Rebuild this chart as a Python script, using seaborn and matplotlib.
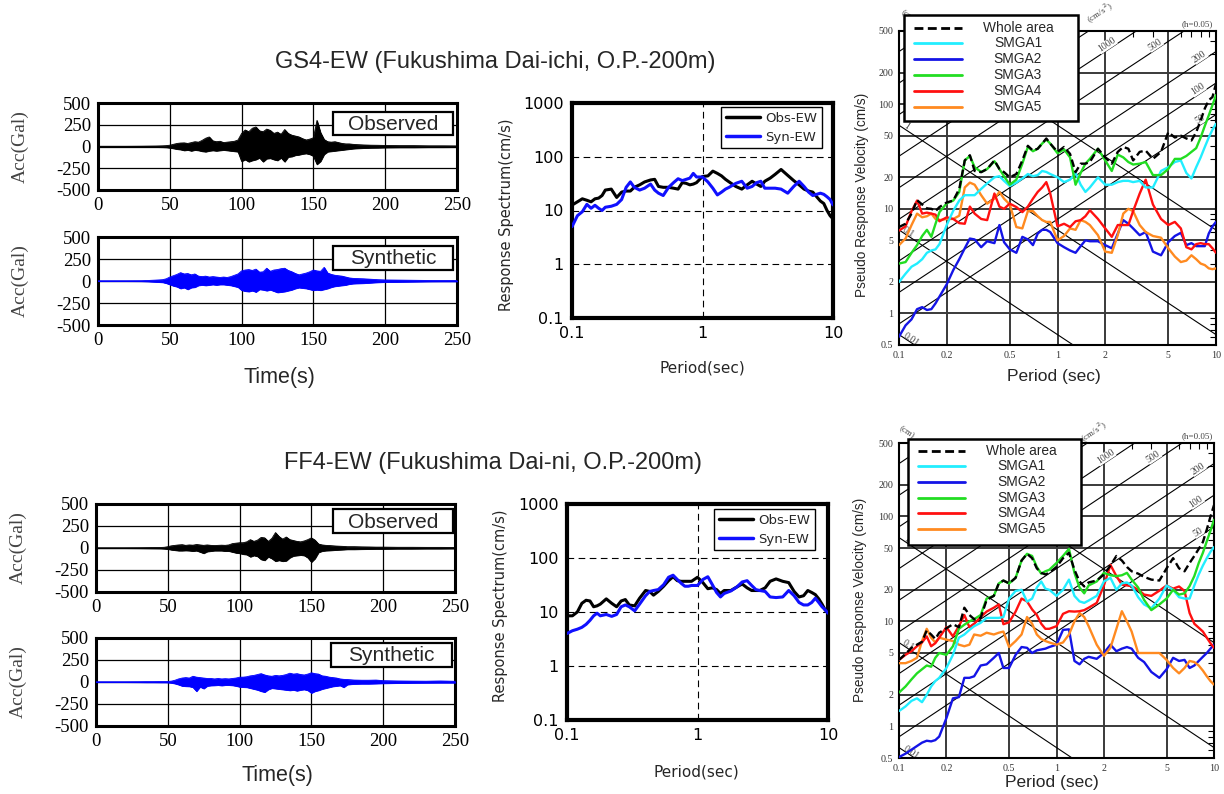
import numpy as np
import pandas as pd
import matplotlib
matplotlib.use("Agg")
import matplotlib.pyplot as plt
import seaborn as sns
from matplotlib.patches import Rectangle
from matplotlib.lines import Line2D
from matplotlib.ticker import FixedLocator, FixedFormatter, NullLocator

sns.set_theme(style="white")
plt.rcParams['font.family'] = ['Liberation Sans', 'DejaVu Sans']
plt.rcParams['axes.unicode_minus'] = False
SERIF = ['Liberation Serif', 'DejaVu Serif']

# ---------------- DATA ----------------
TITLE_TOP = "GS4-EW (Fukushima Dai-ichi, O.P.-200m)"
TITLE_BOT = "FF4-EW (Fukushima Dai-ni, O.P.-200m)"

# waveform time samples (s)
TIME_S = [0, 20, 30, 35, 40, 45, 47.5, 50, 52.5, 55, 57.5, 60, 62.5, 65, 67.5, 70,
          72.5, 75, 77.5, 80, 82.5, 85, 87.5, 90, 92.5, 95, 97.5, 100, 102.5, 105,
          107.5, 110, 112.5, 115, 117.5, 120, 122.5, 125, 127.5, 130, 132.5, 135,
          137.5, 140, 142.5, 145, 147.5, 150, 152.5, 155, 157.5, 160, 162.5, 165,
          167.5, 170, 172.5, 175, 177.5, 180, 185, 190, 195, 200, 210, 220, 230, 240, 250]

# GS4 observed: peak / trough (Gal)
GS4_OBS_UP = [3, 3, 4, 5, 6, 8, 10, 15, 25, 35, 40, 42, 35, 45, 55, 50,
              70, 95, 110, 65, 55, 60, 45, 50, 55, 60, 75, 150, 190, 170,
              210, 225, 180, 170, 200, 185, 150, 165, 140, 195, 150, 130,
              120, 110, 90, 75, 85, 100, 300, 160, 80, 55, 50, 55,
              45, 35, 30, 30, 25, 22, 18, 15, 14, 12, 10, 10, 8, 8, 7]
GS4_OBS_LO = [-3, -3, -4, -5, -6, -8, -10, -15, -22, -30, -35, -45, -40, -50, -40, -45,
              -55, -60, -50, -45, -50, -45, -40, -45, -50, -55, -60, -170, -150, -175,
              -160, -150, -130, -175, -140, -135, -150, -160, -130, -175, -120, -115,
              -100, -95, -85, -80, -90, -110, -205, -170, -90, -60, -55, -50,
              -45, -40, -35, -30, -25, -22, -18, -15, -14, -12, -10, -10, -8, -8, -7]
# GS4 synthetic
GS4_SYN_UP = [2, 2, 3, 6, 10, 15, 25, 45, 60, 75, 95, 80, 85, 70, 80, 55,
              50, 55, 45, 50, 45, 40, 45, 40, 50, 65, 80, 115, 125, 130,
              120, 135, 100, 105, 145, 110, 125, 130, 140, 145, 120, 105,
              85, 70, 80, 90, 105, 125, 115, 110, 155, 90, 75, 65,
              60, 55, 45, 35, 30, 28, 25, 20, 15, 12, 10, 8, 6, 5, 5]
GS4_SYN_LO = [-2, -2, -3, -6, -10, -15, -25, -40, -55, -65, -85, -75, -95, -75, -70, -50,
              -45, -50, -45, -40, -45, -40, -40, -45, -50, -60, -70, -105, -115, -120,
              -110, -125, -95, -100, -110, -100, -115, -130, -125, -120, -110, -100,
              -85, -75, -80, -85, -95, -105, -100, -105, -95, -85, -70, -60,
              -55, -50, -45, -35, -30, -28, -25, -20, -15, -12, -10, -8, -6, -5, -5]
# FF4 observed
FF4_OBS_UP = [2, 2, 3, 4, 5, 6, 8, 15, 25, 30, 35, 38, 30, 35, 32, 40,
              35, 30, 35, 30, 28, 30, 32, 30, 35, 50, 55, 60, 60, 70,
              95, 75, 90, 120, 115, 75, 110, 175, 130, 100, 125, 95,
              85, 75, 70, 80, 95, 115, 90, 45, 35, 30, 28, 25,
              22, 20, 18, 15, 15, 15, 13, 12, 10, 10, 8, 8, 7, 7, 6]
FF4_OBS_LO = [-2, -2, -3, -4, -5, -6, -8, -12, -20, -25, -30, -30, -28, -30, -35, -30,
              -45, -60, -40, -35, -30, -30, -30, -35, -35, -45, -55, -60, -70, -75,
              -100, -85, -95, -130, -140, -100, -120, -150, -140, -150, -145, -110,
              -90, -85, -80, -85, -110, -160, -120, -50, -35, -30, -28, -25,
              -22, -20, -18, -15, -15, -15, -13, -12, -10, -10, -8, -8, -7, -7, -6]
# FF4 synthetic
FF4_SYN_UP = [2, 2, 3, 4, 4, 5, 5, 6, 10, 20, 35, 45, 50, 45, 65, 55,
              50, 45, 40, 40, 35, 40, 35, 38, 35, 40, 45, 55, 55, 60,
              70, 75, 85, 95, 80, 70, 65, 75, 70, 75, 85, 100,
              90, 95, 85, 80, 90, 105, 95, 90, 70, 65, 55, 50,
              45, 35, 30, 28, 25, 22, 20, 20, 22, 15, 12, 10, 9, 12, 8]
FF4_SYN_LO = [-2, -2, -3, -4, -4, -5, -5, -6, -10, -18, -30, -45, -48, -50, -60, -105,
              -55, -75, -45, -40, -38, -35, -40, -35, -35, -38, -45, -55, -58, -60,
              -70, -80, -90, -105, -115, -85, -70, -75, -80, -85, -90, -95,
              -90, -100, -90, -85, -95, -125, -105, -95, -80, -70, -60, -50,
              -45, -40, -60, -30, -25, -22, -20, -20, -18, -15, -12, -10, -9, -8, -8]

WAVE_XTICKS = [0, 50, 100, 150, 200, 250]
WAVE_YTICKS = [-500, -250, 0, 250, 500]

# periods (s) shared by spectra
PERIOD = [0.1, 0.11, 0.12, 0.13, 0.14, 0.15, 0.16, 0.17, 0.18, 0.2,
          0.22, 0.24, 0.26, 0.28, 0.3, 0.33, 0.36, 0.4, 0.43, 0.46,
          0.5, 0.55, 0.6, 0.65, 0.7, 0.75, 0.8, 0.85, 0.9, 1.0,
          1.1, 1.2, 1.3, 1.4, 1.5, 1.6, 1.8, 2.0, 2.2, 2.4,
          2.6, 2.8, 3.0, 3.3, 3.6, 4.0, 4.5, 5.0, 5.5, 6.0,
          6.5, 7.0, 7.5, 8.0, 8.5, 9.0, 9.5, 10]

# response spectra (cm/s)
GS4_SPEC_OBS = [12.6, 14.5, 16.5, 15.5, 14.5, 16.5, 17, 19, 24, 25,
                17.5, 22, 23, 23, 27, 30, 34, 37, 38, 28,
                27, 27, 26, 25, 33, 32, 30, 31, 33, 43,
                44, 54, 49, 44, 38, 34, 28, 25, 30, 35,
                31, 28, 35, 40, 47, 58, 45, 36, 30, 25,
                23, 22, 18, 15, 13.5, 10, 8, 7]
GS4_SPEC_SYN = [5, 8, 9.5, 13, 11, 12.5, 11, 10, 11.5, 12,
                13, 16, 27, 34, 27, 24, 26, 31, 24, 21,
                19, 27, 33, 39, 36, 38, 40, 49, 42, 42,
                34, 26, 19.5, 22, 25, 27, 32, 35, 26, 28,
                33, 35, 26, 26, 26, 25, 21, 28, 35, 28,
                22, 19, 20, 21, 20, 18, 16, 12.7]
FF4_SPEC_OBS = [8.5, 8.5, 10, 14.5, 16.5, 16, 12.5, 13, 14, 17.5,
                14.5, 12.5, 16, 17, 13.5, 13, 18, 25, 24, 20.5,
                24, 30, 38, 45, 38, 37, 37, 37, 37, 44,
                35, 27, 28, 26, 22, 25, 25, 29, 33, 28,
                25, 25, 25, 28, 37, 41, 37, 35, 24, 19,
                20, 25, 23, 21, 17.5, 14, 11, 9.5]
FF4_SPEC_SYN = [4.0, 4.5, 4.8, 5.2, 5.9, 7.0, 8.5, 9.5, 8.5, 9.0,
                8.3, 9.0, 12.5, 13.5, 12.5, 10.5, 14, 20, 24, 25,
                26, 32, 44, 48, 40, 34, 30, 30, 31, 31,
                40, 45, 32, 23, 19, 22, 24.5, 29, 36, 38,
                31, 26, 25, 24, 19, 18.5, 19, 25, 20, 15,
                13.5, 13.5, 15, 18, 15, 12.5, 11, 9.5]
SPEC_XTICKS = [0.1, 1, 10]
SPEC_XLABELS = ['0.1', '1', '10']
SPEC_YTICKS = [0.1, 1, 10, 100, 1000]
SPEC_YLABELS = ['0.1', '1', '10', '100', '1000']

# pseudo velocity response (cm/s), h=0.05
GS4_WHOLE = [6.7, 7.2, 9.0, 12.1, 11, 10.1, 10, 9.5, 10.4, 11.5,
             12, 15.5, 29, 32.5, 23, 22.4, 24, 29, 24, 22.4,
             20, 21.5, 29, 40, 36, 37.5, 42, 47, 42, 35,
             39, 33.5, 22.4, 27, 27, 28, 37.5, 31, 27, 35,
             39, 37.5, 29, 35, 36, 30, 35, 54, 48, 50,
             47, 45, 54, 70, 91, 109, 117, 157]
GS4_SMGA1 = [2.0, 2.4, 2.8, 3.0, 3.3, 3.8, 4.0, 4.1, 4.6, 7.0,
             9.6, 12, 13.5, 13.5, 13.5, 15.5, 17.5, 20, 20.5, 18.5,
             16.5, 17.8, 19.5, 21.5, 20.5, 21, 23, 22.5, 21.5, 20,
             18, 19, 22, 17, 14.5, 16, 20, 17, 17, 18,
             18.5, 18.5, 18, 18.5, 16, 16, 23, 25, 28, 29,
             22, 19.5, 25, 31, 39, 48, 57, 65]
GS4_SMGA2 = [0.6, 0.77, 0.88, 1.1, 1.15, 1.08, 1.1, 1.25, 1.45, 1.9,
             2.6, 3.3, 4.2, 5.2, 5.1, 4.3, 4.9, 4.7, 7.0, 4.8,
             4.1, 3.8, 5.4, 5.1, 4.5, 5.8, 6.3, 6.3, 6.0, 4.7,
             4.3, 4.0, 3.8, 4.4, 5.0, 4.9, 4.9, 4.5, 4.2, 5.8,
             7.8, 7.2, 6.5, 5.6, 6.0, 3.9, 3.6, 4.8, 5.5, 5.9,
             4.5, 4.7, 4.4, 4.4, 4.4, 5.8, 6.8, 7.5]
GS4_SMGA3 = [3.0, 3.1, 3.8, 4.5, 5.5, 6.3, 5.4, 7.2, 9.3, 11.3,
             12, 14.5, 29, 32, 25, 22.5, 24, 28.5, 24, 20.5,
             17, 19, 27, 39, 35.5, 37.5, 42, 46, 42, 34,
             37, 31, 17, 22, 27, 30, 37.5, 29, 23, 33,
             31, 28, 26.5, 27, 28, 21, 21, 24, 30, 30,
             32, 35, 38, 48, 62, 78, 98, 122]
GS4_SMGA4 = [6.2, 6.8, 9.5, 12, 9.0, 9.2, 9.0, 8.8, 7.6, 8.3,
             8.0, 7.3, 7.2, 10.5, 9.0, 8.0, 7.8, 14, 10.5, 10,
             11.2, 10.4, 9.3, 10.5, 12.5, 14.5, 16, 18, 14, 6.8,
             7.2, 6.7, 7.6, 7.8, 8.5, 9.7, 8.0, 6.5, 5.4, 7.0,
             7.0, 7.0, 9.5, 14, 19, 11, 8.0, 7.0, 7.5, 6.5,
             4.3, 4.1, 4.6, 4.7, 4.6, 4.6, 4.2, 3.8]
GS4_SMGA5 = [4.5, 5.2, 7.0, 9.0, 8.3, 8.5, 9.0, 8.0, 7.8, 8.0,
             8.0, 8.6, 16, 17.8, 17, 13.5, 11.2, 12.5, 14.5, 12.5,
             11, 6.7, 6.5, 9.5, 9.5, 8.5, 7.8, 7.5, 7.5, 5.0,
             5.5, 6.5, 6.3, 7.8, 7.5, 7.0, 5.6, 3.9, 3.8, 5.6,
             9.0, 10, 9.5, 7.0, 6.0, 5.5, 5.3, 4.2, 3.5, 3.1,
             3.2, 3.6, 3.3, 3.0, 2.9, 2.7, 2.65, 2.7]

FF4_WHOLE = [4.3, 4.9, 5.6, 6.0, 6.4, 8.2, 7.5, 6.8, 7.8, 8.6,
             9.4, 8.8, 13.5, 11.5, 10.5, 10.8, 16, 17.5, 23, 24.5,
             23, 26, 38, 44, 40, 32, 29, 28, 29, 33,
             40, 45, 31, 24, 21.5, 23.5, 24.5, 28, 34, 42,
             38, 33, 30, 28.5, 26.5, 25, 24.5, 32, 40, 32,
             30, 36, 42, 49, 57, 75, 100, 128]
FF4_SMGA1 = [1.4, 1.55, 1.75, 1.85, 1.7, 2.0, 2.4, 2.7, 2.9, 3.6,
             4.8, 7.0, 7.5, 8.3, 9.0, 9.7, 10.8, 10.8, 10.8, 11,
             16.5, 19.5, 20, 15.4, 16.5, 21, 24, 20.5, 20, 17.5,
             20, 25, 17.5, 15.5, 15, 15.8, 17.5, 24, 26, 20,
             23, 23.5, 22, 17, 14.5, 13.3, 16.5, 22, 20, 17,
             16.5, 16.5, 22, 28, 34, 40, 46, 51]
FF4_SMGA2 = [0.51, 0.55, 0.6, 0.65, 0.7, 0.73, 0.72, 0.74, 0.8, 1.2,
             1.85, 1.9, 2.9, 2.9, 3.0, 3.8, 3.9, 4.5, 5.0, 3.6,
             3.6, 4.8, 5.7, 5.6, 5.0, 5.3, 5.4, 5.5, 5.7, 6.0,
             8.3, 8.4, 4.2, 3.9, 4.4, 4.6, 4.4, 5.0, 6.0, 5.2,
             5.5, 5.7, 5.5, 4.5, 4.1, 3.3, 2.9, 3.5, 4.5, 4.2,
             4.3, 3.6, 3.8, 4.2, 4.6, 5.0, 5.5, 6.0]
FF4_SMGA3 = [2.1, 2.4, 2.8, 3.2, 3.5, 3.8, 3.7, 4.5, 5.0, 4.8,
             5.8, 8.5, 9.3, 10, 10.5, 11.5, 16.5, 17.5, 23, 24.5,
             23, 26, 38, 44, 42, 33, 28.5, 30, 31, 36,
             42, 49, 29, 21, 18.5, 22, 24, 29, 27.5, 27,
             27.5, 29, 25, 21, 16, 12.8, 14.5, 16.5, 20, 18,
             18.5, 21.7, 27, 36, 45, 58, 73, 93]
FF4_SMGA4 = [4.3, 4.8, 5.2, 5.8, 6.3, 7.2, 5.8, 6.2, 7.0, 8.8,
             7.2, 9.0, 11.5, 8.8, 9.5, 11, 12.4, 13.5, 14.5, 9.4,
             9.8, 12.4, 16.5, 15.5, 13, 11.5, 9.5, 8.5, 8.5, 9.0,
             11.8, 12.5, 12.4, 12.5, 12.8, 13.5, 15, 22, 34.5, 27,
             22.4, 22, 21.7, 20, 18, 17.5, 19.6, 22, 20.5, 21.5,
             19.5, 12, 9.5, 8.7, 8.0, 7.0, 6.2, 5.6]
FF4_SMGA5 = [4.0, 4.0, 4.2, 4.5, 6.5, 8.5, 7.0, 6.3, 7.0, 6.7,
             6.5, 6.0, 5.8, 6.0, 7.5, 7.3, 7.8, 7.5, 7.8, 8.0,
             5.7, 6.5, 7.5, 11, 9.5, 7.5, 6.8, 6.5, 6.3, 6.0,
             6.3, 7.5, 10, 12, 11, 9, 6.0, 4.7, 5.6, 8.5,
             12.5, 10, 8.0, 5.0, 5.0, 5.0, 5.0, 4.3, 3.6, 3.2,
             3.6, 4.2, 4.1, 3.8, 3.4, 3.0, 2.7, 2.5]

TRI_NAMES = ['Whole area', 'SMGA1', 'SMGA2', 'SMGA3', 'SMGA4', 'SMGA5']
TRI_COLORS = {'Whole area': 'black', 'SMGA1': '#22EEFF', 'SMGA2': '#1414E6',
              'SMGA3': '#22DD22', 'SMGA4': '#FF1010', 'SMGA5': '#FF8A20'}
TRI_XTICKS = [0.1, 0.2, 0.5, 1, 2, 5, 10]
TRI_XLABELS = ['0.1', '0.2', '0.5', '1', '2', '5', '10']
TRI_YTICKS = [0.5, 1, 2, 5, 10, 20, 50, 100, 200, 500]
TRI_YLABELS = ['0.5', '1', '2', '5', '10', '20', '50', '100', '200', '500']
TRI_XMINOR = [0.3, 0.4, 0.6, 0.7, 0.8, 0.9, 3, 4, 6, 7, 8, 9]
TRI_YMINOR = [0.6, 0.7, 0.8, 0.9, 3, 4, 6, 7, 8, 9, 30, 40, 60, 70, 80, 90, 300, 400]
ACC_LINES = [50, 100, 200, 500, 1000, 2000, 5000, 10000, 20000]  # cm/s^2
DISP_LINES = [0.01, 0.1, 1, 10]                                   # cm
ACC_LABELS = ['1000', '500', '200', '100', '50']
ACC_LABEL_VALUES = [1000, 500, 200, 100, 50]
ACC_LABEL_T = [2.05, 4.13, 7.9, 7.7, 7.9]
DISP_LABELS = ['1', '0.1', '0.01']
DISP_LABEL_VALUES = [1, 0.1, 0.01]
DISP_LABEL_T = [0.111, 0.1135, 0.12]

# ---------------- FIGURE ----------------
W, H = 1224, 794
fig = plt.figure(figsize=(W / 100, H / 100), dpi=100)


def px_axes(x0, y0, x1, y1):
    return fig.add_axes([x0 / W, 1 - y1 / H, (x1 - x0) / W, (y1 - y0) / H])


def ftext(x, y, s, **kw):
    fig.text(x / W, 1 - y / H, s, **kw)


def wave_panel(box, up, lo, color, tag, tagbox):
    ax = px_axes(*box)
    ax.fill_between(TIME_S, lo, up, color=color, linewidth=0.6, zorder=3)
    sns.lineplot(x=TIME_S, y=up, ax=ax, color=color, lw=0.6, estimator=None, zorder=3)
    sns.lineplot(x=TIME_S, y=lo, ax=ax, color=color, lw=0.6, estimator=None, zorder=3)
    ax.set_xlim(0, 250)
    ax.set_ylim(-500, 500)
    ax.set_xticks(WAVE_XTICKS)
    ax.set_yticks(WAVE_YTICKS)
    ax.set_xticklabels([str(v) for v in WAVE_XTICKS])
    ax.set_yticklabels([str(v) for v in WAVE_YTICKS])
    ax.grid(True, color='black', lw=0.9, zorder=1)
    ax.set_axisbelow(True)
    for s in ax.spines.values():
        s.set_linewidth(2.2)
        s.set_color('black')
    ax.tick_params(length=0, labelsize=13.5, pad=5, colors='black')
    for lab in ax.get_xticklabels() + ax.get_yticklabels():
        lab.set_fontfamily(SERIF)
    ax.set_ylabel('Acc(Gal)', fontfamily=SERIF, fontsize=14, color='#444444')
    ax.yaxis.set_label_coords(-0.193, 0.5)
    ax.set_xlabel('')
    x0, y0, x1, y1 = tagbox
    ax.add_patch(Rectangle((x0, y0), x1 - x0, y1 - y0, transform=ax.transAxes,
                           fc='white', ec='black', lw=1.6, zorder=6))
    ax.text((x0 + x1) / 2, (y0 + y1) / 2 - 0.01, tag, transform=ax.transAxes, ha='center',
            va='center', fontsize=15, zorder=7)
    return ax


def spec_panel(box, obs, syn, leg_anchor):
    ax = px_axes(*box)
    ax.set_xscale('log')
    ax.set_yscale('log')
    sns.lineplot(x=PERIOD, y=obs, ax=ax, color='black', lw=2.2, estimator=None, zorder=4)
    sns.lineplot(x=PERIOD, y=syn, ax=ax, color='#1010FF', lw=2.2, estimator=None, zorder=4)
    ax.set_xlim(0.1, 10)
    ax.set_ylim(0.1, 1000)
    for v in [1, 10, 100]:
        ax.axhline(v, color='black', lw=0.8, ls=(0, (6, 4)), zorder=1)
    ax.axvline(1, color='black', lw=0.8, ls=(0, (6, 4)), zorder=1)
    ax.xaxis.set_major_locator(FixedLocator(SPEC_XTICKS))
    ax.xaxis.set_major_formatter(FixedFormatter(SPEC_XLABELS))
    ax.yaxis.set_major_locator(FixedLocator(SPEC_YTICKS))
    ax.yaxis.set_major_formatter(FixedFormatter(SPEC_YLABELS))
    ax.xaxis.set_minor_locator(NullLocator())
    ax.yaxis.set_minor_locator(NullLocator())
    ax.tick_params(length=0, labelsize=11.5, pad=6, colors='black')
    for lab in ax.get_xticklabels() + ax.get_yticklabels():
        lab.set_fontfamily(['DejaVu Sans'])
    for s in ax.spines.values():
        s.set_linewidth(3)
        s.set_color('black')
    ax.set_xlabel('')
    ax.set_ylabel('')
    handles = [Line2D([], [], color='black', lw=2.5), Line2D([], [], color='#1010FF', lw=2.5)]
    leg = ax.legend(handles, ['Obs-EW', 'Syn-EW'], loc='upper right', bbox_to_anchor=leg_anchor,
                    borderaxespad=0, fancybox=False, framealpha=1, edgecolor='black',
                    handlelength=2.6, borderpad=0.35, labelspacing=0.45, handletextpad=0.4,
                    prop={'family': 'DejaVu Sans', 'size': 9.5})
    leg.get_frame().set_linewidth(1.0)
    return ax


def tri_panel(box, curves, leg_geom, cm_pos, cms2_pos, h_pos):
    ax = px_axes(*box)
    ax.set_xscale('log')
    ax.set_yscale('log')
    for v in [1, 2, 5, 10, 20, 50, 100, 200]:
        ax.axhline(v, color='#3a3a3a', lw=1.4, zorder=1)
    for v in [0.2, 0.5, 1, 2, 5]:
        ax.axvline(v, color='#3a3a3a', lw=1.4, zorder=1)
    tl = np.array([0.05, 20.0])
    for a in ACC_LINES:
        ax.plot(tl, a * tl / (2 * np.pi), color='black', lw=0.8, zorder=1.5)
    for d in DISP_LINES:
        ax.plot(tl, 2 * np.pi * d / tl, color='black', lw=0.8, zorder=1.5)
    order = ['SMGA2', 'SMGA5', 'SMGA4', 'SMGA1', 'SMGA3', 'Whole area']
    for k, name in enumerate(order):
        ls = (0, (3.2, 1.6)) if name == 'Whole area' else '-'
        sns.lineplot(x=PERIOD, y=curves[name], ax=ax, color=TRI_COLORS[name], lw=1.7,
                     linestyle=ls, estimator=None, zorder=3 + k)
    ax.set_xlim(0.1, 10)
    ax.set_ylim(0.5, 500)
    ax.set_xlabel('')
    ax.set_ylabel('')
    ax.xaxis.set_major_locator(FixedLocator(TRI_XTICKS))
    ax.xaxis.set_major_formatter(FixedFormatter(TRI_XLABELS))
    ax.yaxis.set_major_locator(FixedLocator(TRI_YTICKS))
    ax.yaxis.set_major_formatter(FixedFormatter(TRI_YLABELS))
    ax.xaxis.set_minor_locator(FixedLocator(TRI_XMINOR))
    ax.yaxis.set_minor_locator(FixedLocator(TRI_YMINOR))
    ax.tick_params(which='both', direction='in', top=True, right=True, labelsize=7.2,
                   colors='#333333', pad=4)
    ax.tick_params(which='major', length=0)
    ax.tick_params(which='minor', length=4, width=0.8, color='black')
    for lab in ax.get_xticklabels() + ax.get_yticklabels():
        lab.set_fontfamily(SERIF)
    for s in ax.spines.values():
        s.set_linewidth(1.5)
        s.set_color('black')
    bb = ax.get_position()
    wpx = bb.width * W
    hpx = bb.height * H
    ang = np.degrees(np.arctan((hpx / 3.0) / (wpx / 2.0)))
    for lab, a, t in zip(ACC_LABELS, ACC_LABEL_VALUES, ACC_LABEL_T):
        ax.text(t, a * t / (2 * np.pi) * 1.13, lab, rotation=ang, ha='center', va='center',
                fontsize=7, fontfamily=SERIF, color='#444444', zorder=2,
                bbox=dict(fc='white', ec='none', pad=0.2))
    for lab, d, t in zip(DISP_LABELS, DISP_LABEL_VALUES, DISP_LABEL_T):
        ax.text(t, 2 * np.pi * d / t * 1.08, lab, rotation=-ang, ha='center', va='center',
                fontsize=7, fontfamily=SERIF, color='#444444', zorder=2)
    ax.text(cm_pos[0], cm_pos[1], '(cm)', transform=ax.transAxes, rotation=-ang,
            ha='center', va='center', fontsize=6.5, fontfamily=SERIF, color='#444444')
    ax.text(cms2_pos[0], cms2_pos[1], '(cm/s$^2$)', transform=ax.transAxes, rotation=ang,
            ha='center', va='center', fontsize=6.5, fontfamily=SERIF, color='#444444')
    ax.text(h_pos[0], h_pos[1], '(h=0.05)', transform=ax.transAxes, ha='center', va='center',
            fontsize=6.5, fontfamily=SERIF, color='#444444')
    bx0, by0, bx1, by1, rows, s0, s1, tx = leg_geom
    ax.add_patch(Rectangle((bx0, by0), bx1 - bx0, by1 - by0, transform=ax.transAxes,
                           fc='white', ec='black', lw=1.8, zorder=20, clip_on=False))
    for name, yy in zip(TRI_NAMES, rows):
        ls = (0, (3.2, 1.6)) if name == 'Whole area' else '-'
        ax.add_line(Line2D([s0, s1], [yy, yy], transform=ax.transAxes, color=TRI_COLORS[name],
                           lw=2.0, linestyle=ls, zorder=21, clip_on=False))
        ax.text(tx, yy, name, transform=ax.transAxes, ha='center', va='center', fontsize=9.9,
                zorder=22, clip_on=False)
    return ax


# ---- top row (GS4) ----
wave_panel((98, 103, 457, 190), GS4_OBS_UP, GS4_OBS_LO, 'black', 'Observed',
           (0.655, 0.632, 0.989, 0.897))
wave_panel((98, 237, 457, 325), GS4_SYN_UP, GS4_SYN_LO, '#0000FF', 'Synthetic',
           (0.655, 0.625, 0.989, 0.901))
spec_panel((572, 103, 833, 318), GS4_SPEC_OBS, GS4_SPEC_SYN, (0.958, 0.981))
tri_panel((899, 31, 1216, 345),
          {'Whole area': GS4_WHOLE, 'SMGA1': GS4_SMGA1, 'SMGA2': GS4_SMGA2,
           'SMGA3': GS4_SMGA3, 'SMGA4': GS4_SMGA4, 'SMGA5': GS4_SMGA5},
          (0.016, 0.713, 0.565, 1.051, [1.011, 0.961, 0.910, 0.860, 0.810, 0.759], 0.047, 0.198, 0.375),
          (0.03, 1.045), (0.634, 1.057), (0.94, 1.022))

# ---- bottom row (FF4) ----
wave_panel((96, 504, 455, 592), FF4_OBS_UP, FF4_OBS_LO, 'black', 'Observed',
           (0.66, 0.667, 0.994, 0.94))
wave_panel((96, 638, 455, 726), FF4_SYN_UP, FF4_SYN_LO, '#0000FF', 'Synthetic',
           (0.655, 0.674, 0.992, 0.947))
spec_panel((567, 504, 828, 720), FF4_SPEC_OBS, FF4_SPEC_SYN, (0.950, 0.977))
tri_panel((899, 443, 1214, 758),
          {'Whole area': FF4_WHOLE, 'SMGA1': FF4_SMGA1, 'SMGA2': FF4_SMGA2,
           'SMGA3': FF4_SMGA3, 'SMGA4': FF4_SMGA4, 'SMGA5': FF4_SMGA5},
          (0.03, 0.676, 0.578, 1.012, [0.976, 0.927, 0.875, 0.824, 0.777, 0.726], 0.06, 0.21, 0.39),
          (0.025, 1.035), (0.62, 1.035), (0.946, 1.022))

# ---- titles and shared labels ----
ftext(495, 62, TITLE_TOP, ha='center', va='center', fontsize=17)
ftext(493, 463, TITLE_BOT, ha='center', va='center', fontsize=17)
ftext(279, 377, 'Time(s)', ha='center', va='center', fontsize=15.5)
ftext(277, 775, 'Time(s)', ha='center', va='center', fontsize=15.5)
ftext(507, 215, 'Response Spectrum(cm/s)', ha='center', va='center', rotation=90,
      fontsize=10.5, family=['DejaVu Sans'])
ftext(500, 606, 'Response Spectrum(cm/s)', ha='center', va='center', rotation=90,
      fontsize=10.5, family=['DejaVu Sans'])
ftext(702, 368, 'Period(sec)', ha='center', va='center', fontsize=11, family=['DejaVu Sans'])
ftext(696, 772, 'Period(sec)', ha='center', va='center', fontsize=11, family=['DejaVu Sans'])
ftext(862, 195, 'Pseudo Response Velocity (cm/s)', ha='center', va='center', rotation=90,
      fontsize=9.8)
ftext(860, 600, 'Pseudo Response Velocity (cm/s)', ha='center', va='center', rotation=90,
      fontsize=9.8)
ftext(1054, 377, 'Period (sec)', ha='center', va='center', fontsize=12.5)
ftext(1052, 782, 'Period (sec)', ha='center', va='center', fontsize=12.5)

fig.savefig('out.png', dpi=100, facecolor='white')
